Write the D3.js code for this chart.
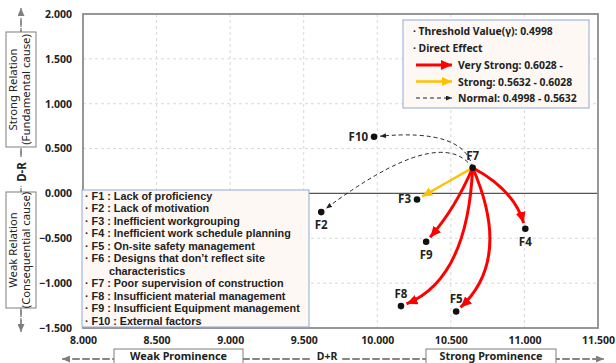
<!DOCTYPE html>
<html><head><meta charset="utf-8">
<script src="https://cdn.jsdelivr.net/npm/d3@7"></script>
<style>body{margin:0;background:#fff} svg text{font-family:"Noto Sans","Open Sans",sans-serif}</style>
</head><body><svg id="c" width="616" height="363"></svg>
<script>
// ---- data ----
const factorIds = ["F2","F3","F4","F5","F7","F8","F9","F10"];
const prominence = [9.619, 10.270, 11.006, 10.536, 10.648, 10.161, 10.332, 9.978]; // D+R
const relation   = [-0.208, -0.067, -0.394, -1.316, 0.286, -1.256, -0.539, 0.632]; // D-R
const labelSide  = ["below","left","below","above","above","above","below","left"];
const linkSource = "F7";
const linkTargets = ["F10","F2","F3","F9","F8","F5","F4"];
const linkLevels  = ["normal","normal","strong","very","very","very","very"];
const linkBend    = [0.34, 0.33, 0, -0.08, -0.30, -0.345, -0.21];
const linkSkew    = [-0.31, -0.385, 0, 0, 0.15, 0.095, 0.045];
const xTicks = [8.0, 8.5, 9.0, 9.5, 10.0, 10.5, 11.0, 11.5];
const yTicks = [-1.5, -1.0, -0.5, 0.0, 0.5, 1.0, 1.5, 2.0];
const factorNames = [
  "F1 : Lack of proficiency",
  "F2 : Lack of motivation",
  "F3 : Inefficient workgrouping",
  "F4 : Inefficient work schedule planning",
  "F5 : On-site safety management",
  "F6 : Designs that don\u2019t reflect site",
  "      characteristics",
  "F7 : Poor supervision of construction",
  "F8 : Insufficient material management",
  "F9 : Insufficient Equipment management",
  "F10 : External factors"
];
const thresholdText = "Threshold Value(\u03b3): 0.4998";
const levelNames = ["very","strong","normal"];
const levelLabels = ["Very Strong: 0.6028 -","Strong: 0.5632 - 0.6028","Normal: 0.4998 - 0.5632"];

// ---- drawing ----
const svg = d3.select("#c");
const x = d3.scaleLinear().domain([8, 11.5]).range([83, 598]);
const y = d3.scaleLinear().domain([-1.5, 2]).range([328, 14]);
const style = {
  very:   {color:"#ff0000", w:3,   dash:null,  head:[11,10]},
  strong: {color:"#ffc000", w:2.5, dash:null,  head:[10,9]},
  normal: {color:"#222222", w:1,   dash:"4,3", head:[6,5]}
};
const defs = svg.append("defs");
for (const k of levelNames) {
  const s = style[k];
  defs.append("marker").attr("id","m-"+k).attr("markerUnits","userSpaceOnUse")
    .attr("viewBox",`0 0 ${s.head[0]} ${s.head[1]}`).attr("refX",s.head[0]).attr("refY",s.head[1]/2)
    .attr("markerWidth",s.head[0]).attr("markerHeight",s.head[1]).attr("orient","auto")
    .append("path").attr("d",`M0,0L${s.head[0]},${s.head[1]/2}L0,${s.head[1]}Z`).attr("fill",s.color);
}
defs.append("marker").attr("id","m-gray").attr("markerUnits","userSpaceOnUse")
  .attr("viewBox","0 0 8 7").attr("refX",8).attr("refY",3.5).attr("markerWidth",8).attr("markerHeight",7).attr("orient","auto")
  .append("path").attr("d","M0,0L8,3.5L0,7Z").attr("fill","#7f7f7f");

// grid
const plot = svg.append("g");
plot.selectAll(".gx").data(xTicks.slice(1,-1)).join("line")
  .attr("x1",d=>x(d)).attr("x2",d=>x(d)).attr("y1",y(2)).attr("y2",y(-1.5))
  .attr("stroke","#d9d9d9").attr("stroke-dasharray","3,3");
plot.selectAll(".gy").data(yTicks.filter(v=>v!==0 && v!==2 && v!==-1.5)).join("line")
  .attr("x1",x(8)).attr("x2",x(11.5)).attr("y1",d=>y(d)).attr("y2",d=>y(d))
  .attr("stroke","#d9d9d9").attr("stroke-dasharray","3,3");
plot.append("line").attr("x1",x(8)).attr("x2",x(11.5)).attr("y1",y(0)).attr("y2",y(0))
  .attr("stroke","#555").attr("stroke-width",1.2);
plot.append("rect").attr("x",x(8)).attr("y",y(2)).attr("width",x(11.5)-x(8)).attr("height",y(-1.5)-y(2))
  .attr("fill","none").attr("stroke","#8c8c8c").attr("stroke-width",1.8);

// axes
const fmt = d3.format(".3f");
const xa = svg.append("g").attr("transform",`translate(0,${y(-1.5)})`)
  .call(d3.axisBottom(x).tickValues(xTicks).tickFormat(fmt).tickSize(0).tickPadding(9));
const ya = svg.append("g").attr("transform",`translate(${x(8)},0)`)
  .call(d3.axisLeft(y).tickValues(yTicks).tickFormat(fmt).tickSize(0).tickPadding(11));
for (const a of [xa, ya]) {
  a.select(".domain").remove();
  a.selectAll("text").attr("font-size",10.5).attr("font-weight","bold").attr("fill","#222")
   .style("font-family","'Noto Sans', 'Open Sans', sans-serif");
}

// factor legend box
const lg = svg.append("g");
lg.append("rect").attr("x",82).attr("y",190).attr("width",227).attr("height",137)
  .attr("fill","#fdf8f4").attr("stroke","#8eaadb").attr("stroke-width",1);
lg.selectAll("text").data(factorNames).join("text")
  .attr("x",85).attr("y",(d,i)=>200+i*12.45)
  .attr("font-size",10.8).attr("font-weight","bold").attr("fill","#222")
  .style("font-family","'Liberation Sans', Arial, sans-serif")
  .attr("xml:space","preserve").style("white-space","pre")
  .text(d => (d.startsWith(" ") ? "  " : "\u00b7 ") + d);

// effect legend box
const eg = svg.append("g");
eg.append("rect").attr("x",403).attr("y",20).attr("width",186).attr("height",88)
  .attr("fill","#fdf8f4").attr("stroke","#8eaadb").attr("stroke-width",1);
eg.append("text").attr("x",413).attr("y",35).attr("font-size",10.4).attr("font-weight","bold").attr("fill","#222")
  .text("\u00b7 " + thresholdText);
eg.append("text").attr("x",413).attr("y",52).attr("font-size",10.4).attr("font-weight","bold").attr("fill","#222")
  .text("\u00b7 Direct Effect");
levelNames.forEach((k,i)=>{
  const s = style[k], yy = 65 + i*16.5;
  eg.append("line").attr("x1",416).attr("x2",452).attr("y1",yy).attr("y2",yy)
    .attr("stroke",s.color).attr("stroke-width",s.w).attr("stroke-dasharray",s.dash)
    .attr("marker-end",`url(#m-${k})`);
  eg.append("text").attr("x",458).attr("y",yy+4).attr("font-size",10.4).attr("font-weight","bold").attr("fill","#222")
    .text(levelLabels[i]);
});

// links
const pos = id => { const i = factorIds.indexOf(id); return [x(prominence[i]), y(relation[i])]; };
const P0 = pos(linkSource);
const links = svg.append("g");
linkTargets.forEach((t,i)=>{
  const P2 = pos(t);
  const dx = P2[0]-P0[0], dy = P2[1]-P0[1], L = Math.hypot(dx,dy);
  const ux = dx/L, uy = dy/L, nx = -uy, ny = ux;
  const mx = (P0[0]+P2[0])/2, my = (P0[1]+P2[1])/2;
  const C = [mx + nx*linkBend[i]*L + ux*linkSkew[i]*L, my + ny*linkBend[i]*L + uy*linkSkew[i]*L];
  let ex = P2[0]-C[0], ey = P2[1]-C[1]; const el = Math.hypot(ex,ey);
  const E = [P2[0]-ex/el*6, P2[1]-ey/el*6];
  const s = style[linkLevels[i]];
  const p = d3.path(); p.moveTo(P0[0],P0[1]); p.quadraticCurveTo(C[0],C[1],E[0],E[1]);
  links.append("path").attr("d",p.toString()).attr("fill","none")
    .attr("stroke",s.color).attr("stroke-width",s.w).attr("stroke-dasharray",s.dash)
    .attr("marker-end",`url(#m-${linkLevels[i]})`);
});

// points
const pts = svg.append("g");
factorIds.forEach((id,i)=>{
  const px = x(prominence[i]), py = y(relation[i]);
  pts.append("circle").attr("cx",px).attr("cy",py).attr("r",3.3).attr("fill","#111");
  const side = labelSide[i];
  const t = pts.append("text").attr("font-size",11.5).attr("font-weight","bold").attr("fill","#222").text(id);
  if (side==="left") t.attr("x",px-6).attr("y",py+4).attr("text-anchor","end");
  if (side==="above") t.attr("x",px).attr("y",py-8).attr("text-anchor","middle");
  if (side==="below") t.attr("x",px).attr("y",py+17).attr("text-anchor","middle");
});

// left axis annotation
const ann = svg.append("g");
ann.append("line").attr("x1",21).attr("x2",21).attr("y1",325).attr("y2",8)
  .attr("stroke","#7f7f7f").attr("stroke-width",1.3).attr("stroke-dasharray","7,3").attr("marker-end","url(#m-gray)");
ann.append("line").attr("x1",21).attr("x2",21).attr("y1",20).attr("y2",332)
  .attr("stroke","#7f7f7f").attr("stroke-width",1.3).attr("stroke-dasharray","7,3").attr("marker-end","url(#m-gray)");
const vbox = (y0,y1,l1,l2)=>{
  ann.append("rect").attr("x",6).attr("y",y0).attr("width",30).attr("height",y1-y0)
    .attr("fill","#fff").attr("stroke","#7f7f7f").attr("stroke-width",1);
  const cy = (y0+y1)/2;
  ann.append("text").attr("transform",`translate(17,${cy}) rotate(-90)`).attr("text-anchor","middle")
    .attr("font-size",11.3).attr("fill","#222").text(l1);
  ann.append("text").attr("transform",`translate(30,${cy}) rotate(-90)`).attr("text-anchor","middle")
    .attr("font-size",11.3).attr("fill","#222").text(l2);
};
vbox(32,147,"Strong Relation","(Fundamental cause)");
vbox(192,308,"Weak Relation","(Consequential cause)");
ann.append("rect").attr("x",12).attr("y",158).attr("width",18).attr("height",28).attr("fill","#fff");
ann.append("text").attr("transform","translate(25.5,172) rotate(-90)").attr("text-anchor","middle")
  .attr("font-size",11.5).attr("font-weight","bold").attr("fill","#222").text("D-R");

// bottom axis annotation
ann.append("line").attr("x1",600).attr("x2",62).attr("y1",359).attr("y2",359)
  .attr("stroke","#7f7f7f").attr("stroke-width",1.3).attr("stroke-dasharray","7,3").attr("marker-end","url(#m-gray)");
ann.append("line").attr("x1",62).attr("x2",604).attr("y1",359).attr("y2",359)
  .attr("stroke","#7f7f7f").attr("stroke-width",1.3).attr("stroke-dasharray","7,3").attr("marker-end","url(#m-gray)");
const hbox = (x0,x1,l)=>{
  ann.append("rect").attr("x",x0).attr("y",349).attr("width",x1-x0).attr("height",22)
    .attr("fill","#fff").attr("stroke","#7f7f7f").attr("stroke-width",1);
  ann.append("text").attr("x",(x0+x1)/2).attr("y",360).attr("text-anchor","middle")
    .attr("font-size",10.8).attr("font-weight","bold").attr("fill","#222").text(l);
};
hbox(114,243,"Weak Prominence");
hbox(426,556,"Strong Prominence");
ann.append("rect").attr("x",312).attr("y",351).attr("width",30).attr("height",12).attr("fill","#fff");
ann.append("text").attr("x",327).attr("y",360).attr("text-anchor","middle")
  .attr("font-size",10.5).attr("font-weight","bold").attr("fill","#222").text("D+R");
</script></body></html>
